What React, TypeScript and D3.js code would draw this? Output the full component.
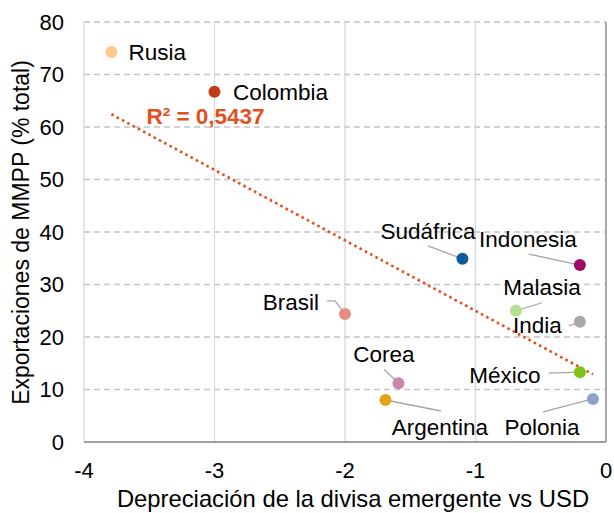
import React from 'react';
import * as d3 from 'd3';

// data
const countries = ['Rusia', 'Colombia', 'Sudáfrica', 'Indonesia', 'Malasia', 'India', 'México', 'Polonia', 'Brasil', 'Corea', 'Argentina'];
const depreciation = [-3.79, -3.0, -1.1, -0.2, -0.69, -0.2, -0.2, -0.1, -2.0, -1.59, -1.69];
const exportShare = [74.3, 66.7, 34.9, 33.7, 25.0, 22.9, 13.3, 8.2, 24.4, 11.2, 8.0];
const pointColors = ['#fdca85', '#c23b19', '#0b5c98', '#9e0b6c', '#b3e08e', '#a8a8a8', '#7cc516', '#8ea0cb', '#e88b82', '#cc84a8', '#e2a31b'];
const xTicks = [-4, -3, -2, -1, 0];
const yTicks = [0, 10, 20, 30, 40, 50, 60, 70, 80];
const r2Label = 'R² = 0,5437';
const xTitle = 'Depreciación de la divisa emergente vs USD';
const yTitle = 'Exportaciones de MMPP (% total)';

// label placement (pixels relative to the point)
type LabelPos = { dx: number; dy: number; anchor: string; line?: [number, number][] };
const labelPos: Record<string, LabelPos> = {
  'Rusia': { dx: 17, dy: 8, anchor: 'start' },
  'Colombia': { dx: 18.5, dy: 8, anchor: 'start' },
  'Sudáfrica': { dx: -34.5, dy: -20, anchor: 'middle', line: [[-34.5, -13]] },
  'Indonesia': { dx: -52, dy: -18, anchor: 'middle', line: [[-51, -11]] },
  'Malasia': { dx: 26, dy: -16, anchor: 'middle', line: [[26, -8]] },
  'India': { dx: -42.5, dy: 11, anchor: 'middle', line: [[-11, 4]] },
  'México': { dx: -75, dy: 11, anchor: 'middle', line: [[-31, 1]] },
  'Polonia': { dx: -51, dy: 36, anchor: 'middle', line: [[-50, 13]] },
  'Brasil': { dx: -26, dy: -4, anchor: 'end', line: [[-18, -13], [-10, -13]] },
  'Corea': { dx: -14.5, dy: -21, anchor: 'middle', line: [[-14.5, -14]] },
  'Argentina': { dx: 54.5, dy: 35, anchor: 'middle', line: [[55.5, 11]] },
};

const W = 614;
const H = 513;
const margin = { top: 22, right: 8, bottom: 71, left: 84 };
const font = '"Liberation Sans", Arial, sans-serif';
const trendColor = '#e2501d';

const App = () => {
  const x = d3.scaleLinear().domain([-4, 0]).range([margin.left, W - margin.right]);
  const y = d3.scaleLinear().domain([0, 80]).range([H - margin.bottom, margin.top]);

  // least squares trend line over the data range
  const mx = d3.mean(depreciation) as number;
  const my = d3.mean(exportShare) as number;
  const sxy = d3.sum(depreciation, (d, i) => (d - mx) * (exportShare[i] - my));
  const sxx = d3.sum(depreciation, d => (d - mx) * (d - mx));
  const slope = sxy / sxx;
  const icpt = my - slope * mx;
  const [x0, x1] = d3.extent(depreciation) as [number, number];
  const trend = d3.line<number>().x(d => x(d)).y(d => y(icpt + slope * d))([x0, x1]);

  return (
    <svg width={W} height={H} style={{ position: 'absolute', left: 0, top: 0, fontFamily: font }}>
      <rect width={W} height={H} fill="#fff" />

      {/* grid */}
      {yTicks.filter(t => t > 0).map(t => (
        <line key={'h' + t} x1={x(-4)} x2={x(0)} y1={y(t)} y2={y(t)}
          stroke="#c4c4c4" strokeWidth={1.3} strokeDasharray="6,4" />
      ))}
      {xTicks.filter(t => t < 0).map(t => (
        <line key={'v' + t} x1={x(t)} x2={x(t)} y1={y(80)} y2={y(0)}
          stroke="#d9d9d9" strokeWidth={1.3} />
      ))}

      {/* axis lines */}
      <line x1={x(-4)} x2={x(0)} y1={y(0)} y2={y(0)} stroke="#7f7f7f" strokeWidth={1.3} />
      <line x1={x(0)} x2={x(0)} y1={y(80)} y2={y(0)} stroke="#7f7f7f" strokeWidth={1.3} />

      {/* tick labels */}
      {yTicks.map(t => (
        <text key={'yl' + t} x={64} y={y(t)} dy="0.35em" textAnchor="end" fontSize={22} fill="#000">{t}</text>
      ))}
      {xTicks.map(t => (
        <text key={'xl' + t} x={x(t)} y={478} textAnchor="middle" fontSize={22} fill="#000">{t}</text>
      ))}

      {/* axis titles */}
      <text x={353} y={507} textAnchor="middle" fontSize={23.8} fill="#000">{xTitle}</text>
      <text transform={`translate(29,${232.5}) rotate(-90)`} textAnchor="middle" fontSize={23} fill="#000">{yTitle}</text>

      {/* trend line */}
      <path d={trend || ''} fill="none" stroke={trendColor} strokeWidth={2.6} strokeDasharray="2.6,3.4" />
      <text x={x(x0) + 35} y={y(icpt + slope * x0) + 10} fontSize={22.5} fontWeight="bold" fill={trendColor}>{r2Label}</text>

      {/* leader lines */}
      {countries.map((c, i) => {
        const p = labelPos[c];
        if (!p.line) return null;
        const px = x(depreciation[i]);
        const py = y(exportShare[i]);
        const pts: [number, number][] = [...p.line.map(([a, b]) => [px + a, py + b] as [number, number]), [px, py]];
        return <path key={'ll' + c} d={d3.line()(pts) || ''} fill="none" stroke="#a6a6a6" strokeWidth={1.3} />;
      })}

      {/* points */}
      {countries.map((c, i) => (
        <circle key={'pt' + c} cx={x(depreciation[i])} cy={y(exportShare[i])} r={6} fill={pointColors[i]} />
      ))}

      {/* labels */}
      {countries.map((c, i) => {
        const p = labelPos[c];
        return (
          <text key={'lb' + c} x={x(depreciation[i]) + p.dx} y={y(exportShare[i]) + p.dy}
            textAnchor={p.anchor} fontSize={22.5} fill="#000">{c}</text>
        );
      })}
    </svg>
  );
};

export default App;
